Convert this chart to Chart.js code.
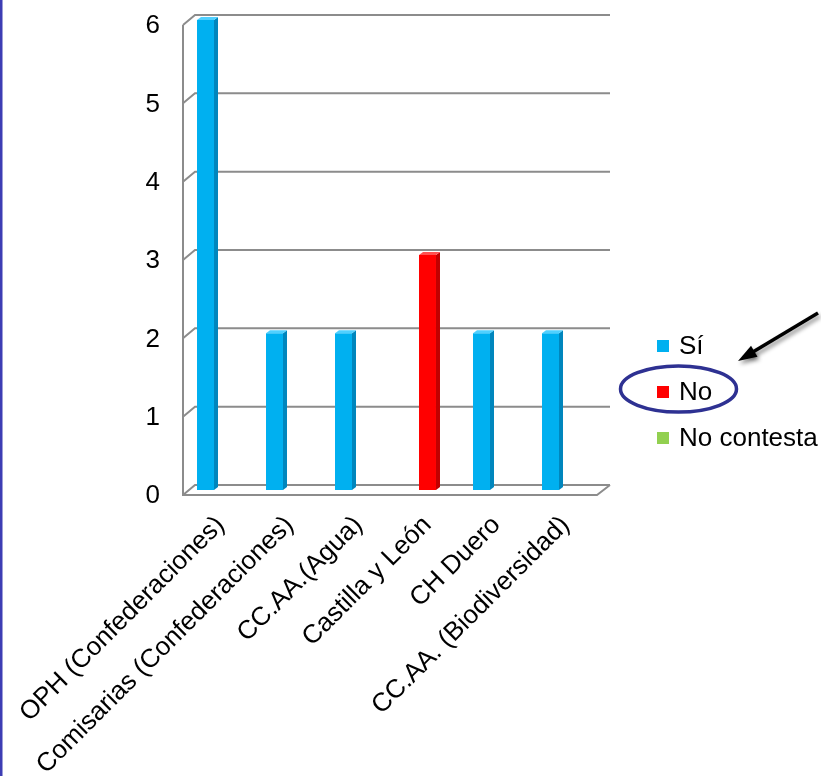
<!DOCTYPE html>
<html>
<head>
<meta charset="utf-8">
<script src="https://cdn.jsdelivr.net/npm/chart.js@4.4.1/dist/chart.umd.min.js"></script>
<style>
  html, body { margin: 0; padding: 0; background: #fff; }
  #wrap { width: 821px; height: 776px; position: relative; }
</style>
</head>
<body>
<div id="wrap"><canvas id="chart" width="821" height="776"></canvas></div>
<script>
// data
const categories = ['OPH (Confederaciones)', 'Comisarias (Confederaciones)', 'CC.AA.(Agua)', 'Castilla y León', 'CH Duero', 'CC.AA. (Biodiversidad)'];
const seriesNames = ['Sí', 'No', 'No contesta'];
const siValues = [6, 2, 2, 0, 2, 2];
const noValues = [0, 0, 0, 3, 0, 0];
const noContestaValues = [0, 0, 0, 0, 0, 0];
const yMin = 0;
const yMax = 6;
const yStep = 1;

const FONT = "'Liberation Sans', Arial, sans-serif";
const GRID = '#8c8c8c';

// back wall + floor + left wall, drawn from the y scale ticks
const frame3d = {
    id: 'frame3d',
    beforeDatasetsDraw(chart) {
        const {ctx, chartArea} = chart;
        const y = chart.scales.y;
        const fx = chartArea.left - 3, bx = chartArea.left + 9;
        const rx = chartArea.right + 10, frx = chartArea.right - 3;
        ctx.save();
        ctx.strokeStyle = GRID;
        ctx.lineWidth = 2;
        ctx.beginPath();
        y.ticks.forEach(t => {
            const py = y.getPixelForValue(t.value);
            ctx.moveTo(fx, py + 5);
            ctx.lineTo(bx, py - 5);
            ctx.lineTo(rx, py - 5);
        });
        const top = y.getPixelForValue(yMax), bot = y.getPixelForValue(yMin);
        // front vertical edge
        ctx.moveTo(fx, top + 5);
        ctx.lineTo(fx, bot + 5);
        // floor front edge and right side
        ctx.lineTo(frx, bot + 5);
        ctx.lineTo(rx, bot - 5);
        ctx.stroke();
        ctx.restore();
    }
};

// side and top faces for each bar
const bars3d = {
    id: 'bars3d',
    afterDatasetsDraw(chart) {
        const {ctx} = chart;
        const d = 4, h = 3;
        ctx.save();
        chart.data.datasets.forEach((ds, i) => {
            const meta = chart.getDatasetMeta(i);
            meta.data.forEach((bar, j) => {
                if (!ds.data[j]) return;
                const {x, y, base, width} = bar.getProps(['x', 'y', 'base', 'width'], true);
                const l = x - width / 2, r = x + width / 2;
                ctx.fillStyle = ds.sideColor;
                ctx.beginPath();
                ctx.moveTo(r, y);
                ctx.lineTo(r + d, y - h);
                ctx.lineTo(r + d, base - h);
                ctx.lineTo(r, base);
                ctx.closePath();
                ctx.fill();
                ctx.fillStyle = ds.topColor;
                ctx.beginPath();
                ctx.moveTo(l, y);
                ctx.lineTo(l + d, y - h);
                ctx.lineTo(r + d, y - h);
                ctx.lineTo(r, y);
                ctx.closePath();
                ctx.fill();
            });
        });
        ctx.restore();
    }
};

// legend, highlight ellipse, arrow and slide border
const extras = {
    id: 'extras',
    afterDraw(chart) {
        const {ctx} = chart;
        ctx.save();
        const lx = 657, ly = [346, 392, 438];
        ctx.font = '26px ' + FONT;
        ctx.textBaseline = 'middle';
        chart.data.datasets.forEach((ds, i) => {
            ctx.fillStyle = ds.backgroundColor;
            ctx.fillRect(lx, ly[i] - 6, 12, 12);
            ctx.fillStyle = '#000';
            ctx.fillText(ds.label, lx + 22, ly[i] + 1);
        });

        ctx.strokeStyle = '#2e3192';
        ctx.lineWidth = 3.5;
        ctx.beginPath();
        ctx.ellipse(678.5, 389, 58, 23, 0, 0, Math.PI * 2);
        ctx.stroke();

        ctx.shadowColor = 'rgba(0,0,0,0.45)';
        ctx.shadowBlur = 4;
        ctx.shadowOffsetX = 2;
        ctx.shadowOffsetY = 3;
        ctx.strokeStyle = '#000';
        ctx.fillStyle = '#000';
        ctx.lineWidth = 3.5;
        const x1 = 818, y1 = 313, x2 = 738, y2 = 361;
        const ang = Math.atan2(y2 - y1, x2 - x1);
        ctx.beginPath();
        ctx.moveTo(x1, y1);
        ctx.lineTo(x2 - 12 * Math.cos(ang), y2 - 12 * Math.sin(ang));
        ctx.stroke();
        ctx.beginPath();
        ctx.moveTo(x2, y2);
        ctx.lineTo(x2 - 20 * Math.cos(ang - 0.32), y2 - 20 * Math.sin(ang - 0.32));
        ctx.lineTo(x2 - 20 * Math.cos(ang + 0.32), y2 - 20 * Math.sin(ang + 0.32));
        ctx.closePath();
        ctx.fill();

        ctx.shadowColor = 'transparent';
        ctx.fillStyle = '#3d3db4';
        ctx.fillRect(0, 0, 2.5, chart.height);
        ctx.restore();
    }
};

new Chart(document.getElementById('chart'), {
    type: 'bar',
    data: {
        labels: categories,
        datasets: [
            { label: seriesNames[0], data: siValues, backgroundColor: '#00b0f0', sideColor: '#0086bd', topColor: '#4fd0ff' },
            { label: seriesNames[1], data: noValues, backgroundColor: '#ff0000', sideColor: '#c00000', topColor: '#ff5050' },
            { label: seriesNames[2], data: noContestaValues, backgroundColor: '#92d050', sideColor: '#6ea33a', topColor: '#b5e384' }
        ]
    },
    options: {
        responsive: false,
        animation: false,
        events: [],
        layout: { padding: { top: 20, right: 221, bottom: 0, left: 0 } },
        categoryPercentage: 0.652,
        barPercentage: 1.133,
        plugins: {
            legend: { display: false },
            tooltip: { enabled: false }
        },
        scales: {
            x: {
                grid: { display: false, drawTicks: false },
                border: { display: false },
                ticks: {
                    autoSkip: false,
                    minRotation: 45,
                    maxRotation: 45,
                    padding: 20,
                    color: '#000',
                    font: { family: FONT, size: 26 }
                },
                afterFit: (s) => { s.height = 286; s.paddingLeft = 0; s.paddingRight = 0; }
            },
            y: {
                min: yMin,
                max: yMax,
                grid: { display: false, drawTicks: false },
                border: { display: false },
                ticks: {
                    stepSize: yStep,
                    padding: 26,
                    labelOffset: 6,
                    color: '#000',
                    font: { family: FONT, size: 26 }
                },
                afterFit: (s) => { s.width = 186; s.paddingTop = 0; s.paddingBottom = 0; }
            }
        }
    },
    plugins: [frame3d, bars3d, extras]
});
</script>
</body>
</html>
